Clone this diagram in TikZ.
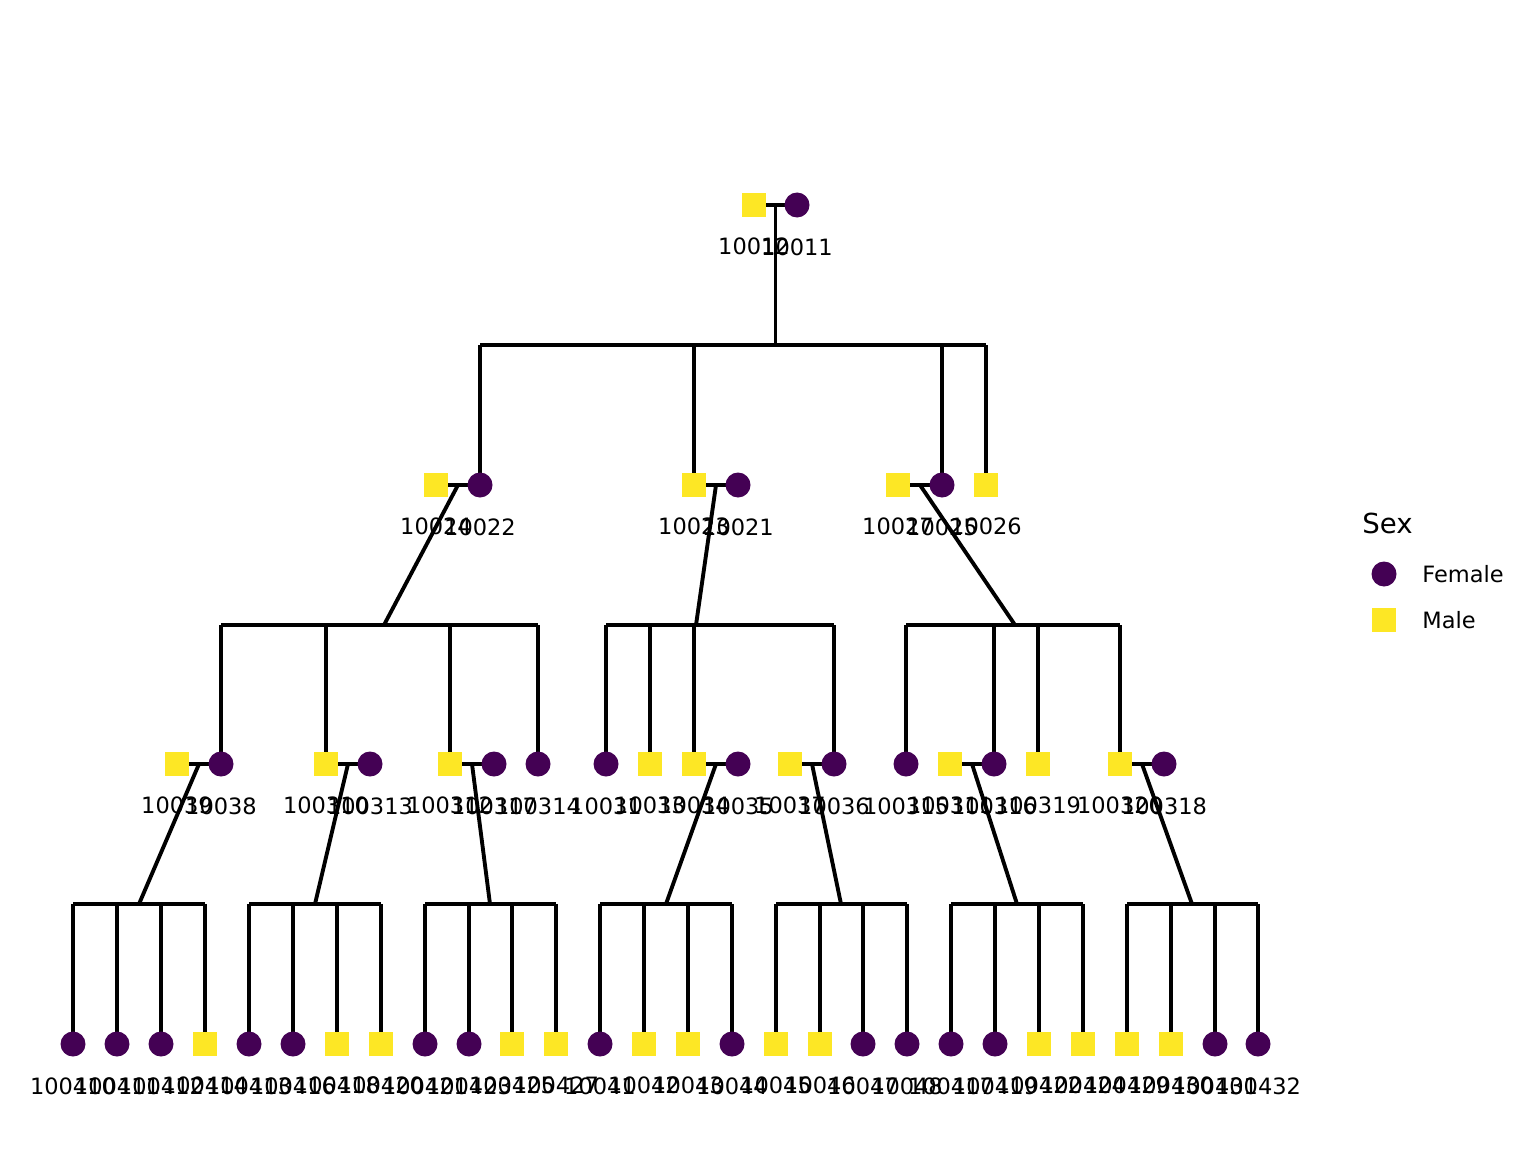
\documentclass[tikz,border=0pt]{standalone}
\usepackage{fontspec}
\setmainfont{DejaVu Sans}
\usepackage{tikz-network}
\definecolor{female}{HTML}{440154}
\definecolor{male}{HTML}{FDE725}
\newcommand{\labelfont}{\fontsize{12.8}{15}\selectfont}
\newcommand{\titlefont}{\fontsize{15.7}{18}\selectfont}

\begin{document}
\begin{tikzpicture}
\SetVertexStyle[LineOpacity=0,TextFont=\labelfont]
\SetEdgeStyle[LineWidth=2.2pt,Color=black]
\useasboundingbox (0,0) rectangle (30.72,-23.04);
% generation 1
\Vertex[label=10012, x=15.08, y=-4.10, shape=rectangle, size=.48, color=male, position=below, distance=3mm]{10012}
\Vertex[label=10011, x=15.94, y=-4.10, size=.5, color=female, position=below, distance=3mm]{10011}
\coordinate (u10012) at (15.51,-4.10);
\coordinate (t10012) at (15.51,-6.90);
\coordinate (d10022) at (9.60,-6.90);
\coordinate (d10023) at (13.88,-6.90);
\coordinate (d10025) at (18.84,-6.90);
\coordinate (d10026) at (19.72,-6.90);
% generation 2
\Vertex[label=10024, x=8.72, y=-9.70, shape=rectangle, size=.48, color=male, position=below, distance=3mm]{10024}
\Vertex[label=10022, x=9.60, y=-9.70, size=.5, color=female, position=below, distance=3mm]{10022}
\Vertex[label=10023, x=13.88, y=-9.70, shape=rectangle, size=.48, color=male, position=below, distance=3mm]{10023}
\Vertex[label=10021, x=14.76, y=-9.70, size=.5, color=female, position=below, distance=3mm]{10021}
\Vertex[label=10027, x=17.96, y=-9.70, shape=rectangle, size=.48, color=male, position=below, distance=3mm]{10027}
\Vertex[label=10025, x=18.84, y=-9.70, size=.5, color=female, position=below, distance=3mm]{10025}
\Vertex[label=10026, x=19.72, y=-9.70, shape=rectangle, size=.48, color=male, position=below, distance=3mm]{10026}
\coordinate (u10024) at (9.16,-9.70);
\coordinate (u10023) at (14.32,-9.70);
\coordinate (u10027) at (18.40,-9.70);
\coordinate (t10024) at (7.68,-12.50);
\coordinate (t10023) at (13.92,-12.50);
\coordinate (t10027) at (20.30,-12.50);
\coordinate (d10038) at (4.42,-12.50);
\coordinate (d100310) at (6.52,-12.50);
\coordinate (d100312) at (9.00,-12.50);
\coordinate (d100314) at (10.76,-12.50);
\coordinate (d10031) at (12.12,-12.50);
\coordinate (d10033) at (13.00,-12.50);
\coordinate (d10034) at (13.88,-12.50);
\coordinate (d10036) at (16.68,-12.50);
\coordinate (d100315) at (18.12,-12.50);
\coordinate (d100316) at (19.88,-12.50);
\coordinate (d100319) at (20.76,-12.50);
\coordinate (d100320) at (22.40,-12.50);
% generation 3
\Vertex[label=10039, x=3.54, y=-15.28, shape=rectangle, size=.48, color=male, position=below, distance=3mm]{10039}
\Vertex[label=10038, x=4.42, y=-15.28, size=.5, color=female, position=below, distance=3mm]{10038}
\Vertex[label=100310, x=6.52, y=-15.28, shape=rectangle, size=.48, color=male, position=below, distance=3mm]{100310}
\Vertex[label=100313, x=7.40, y=-15.28, size=.5, color=female, position=below, distance=3mm]{100313}
\Vertex[label=100312, x=9.00, y=-15.28, shape=rectangle, size=.48, color=male, position=below, distance=3mm]{100312}
\Vertex[label=100317, x=9.88, y=-15.28, size=.5, color=female, position=below, distance=3mm]{100317}
\Vertex[label=100314, x=10.76, y=-15.28, size=.5, color=female, position=below, distance=3mm]{100314}
\Vertex[label=10031, x=12.12, y=-15.28, size=.5, color=female, position=below, distance=3mm]{10031}
\Vertex[label=10033, x=13.00, y=-15.28, shape=rectangle, size=.48, color=male, position=below, distance=3mm]{10033}
\Vertex[label=10034, x=13.88, y=-15.28, shape=rectangle, size=.48, color=male, position=below, distance=3mm]{10034}
\Vertex[label=10035, x=14.76, y=-15.28, size=.5, color=female, position=below, distance=3mm]{10035}
\Vertex[label=10037, x=15.80, y=-15.28, shape=rectangle, size=.48, color=male, position=below, distance=3mm]{10037}
\Vertex[label=10036, x=16.68, y=-15.28, size=.5, color=female, position=below, distance=3mm]{10036}
\Vertex[label=100315, x=18.12, y=-15.28, size=.5, color=female, position=below, distance=3mm]{100315}
\Vertex[label=100311, x=19.00, y=-15.28, shape=rectangle, size=.48, color=male, position=below, distance=3mm]{100311}
\Vertex[label=100316, x=19.88, y=-15.28, size=.5, color=female, position=below, distance=3mm]{100316}
\Vertex[label=100319, x=20.76, y=-15.28, shape=rectangle, size=.48, color=male, position=below, distance=3mm]{100319}
\Vertex[label=100320, x=22.40, y=-15.28, shape=rectangle, size=.48, color=male, position=below, distance=3mm]{100320}
\Vertex[label=100318, x=23.28, y=-15.28, size=.5, color=female, position=below, distance=3mm]{100318}
\coordinate (u10039) at (3.98,-15.28);
\coordinate (u100310) at (6.96,-15.28);
\coordinate (u100312) at (9.44,-15.28);
\coordinate (u10034) at (14.32,-15.28);
\coordinate (u10037) at (16.24,-15.28);
\coordinate (u100311) at (19.44,-15.28);
\coordinate (u100320) at (22.84,-15.28);
\coordinate (t10039) at (2.78,-18.08);
\coordinate (t100310) at (6.30,-18.08);
\coordinate (t100312) at (9.80,-18.08);
\coordinate (t10034) at (13.32,-18.08);
\coordinate (t10037) at (16.82,-18.08);
\coordinate (t100311) at (20.34,-18.08);
\coordinate (t100320) at (23.84,-18.08);
% generation 4
\Vertex[label=100410, x=1.46, y=-20.88, size=.5, color=female, position=below, distance=3mm]{100410}
\Vertex[label=100411, x=2.34, y=-20.88, size=.5, color=female, position=below, distance=3mm]{100411}
\Vertex[label=100412, x=3.22, y=-20.88, size=.5, color=female, position=below, distance=3mm]{100412}
\Vertex[label=100414, x=4.10, y=-20.88, shape=rectangle, size=.48, color=male, position=below, distance=3mm]{100414}
\Vertex[label=100413, x=4.98, y=-20.88, size=.5, color=female, position=below, distance=3mm]{100413}
\Vertex[label=100416, x=5.86, y=-20.88, size=.5, color=female, position=below, distance=3mm]{100416}
\Vertex[label=100418, x=6.74, y=-20.88, shape=rectangle, size=.48, color=male, position=below, distance=3mm]{100418}
\Vertex[label=100420, x=7.62, y=-20.88, shape=rectangle, size=.48, color=male, position=below, distance=3mm]{100420}
\Vertex[label=100421, x=8.50, y=-20.88, size=.5, color=female, position=below, distance=3mm]{100421}
\Vertex[label=100423, x=9.38, y=-20.88, size=.5, color=female, position=below, distance=3mm]{100423}
\Vertex[label=100425, x=10.24, y=-20.88, shape=rectangle, size=.48, color=male, position=below, distance=3mm]{100425}
\Vertex[label=100427, x=11.12, y=-20.88, shape=rectangle, size=.48, color=male, position=below, distance=3mm]{100427}
\Vertex[label=10041, x=12.00, y=-20.88, size=.5, color=female, position=below, distance=3mm]{10041}
\Vertex[label=10042, x=12.88, y=-20.88, shape=rectangle, size=.48, color=male, position=below, distance=3mm]{10042}
\Vertex[label=10043, x=13.76, y=-20.88, shape=rectangle, size=.48, color=male, position=below, distance=3mm]{10043}
\Vertex[label=10044, x=14.64, y=-20.88, size=.5, color=female, position=below, distance=3mm]{10044}
\Vertex[label=10045, x=15.52, y=-20.88, shape=rectangle, size=.48, color=male, position=below, distance=3mm]{10045}
\Vertex[label=10046, x=16.40, y=-20.88, shape=rectangle, size=.48, color=male, position=below, distance=3mm]{10046}
\Vertex[label=10047, x=17.26, y=-20.88, size=.5, color=female, position=below, distance=3mm]{10047}
\Vertex[label=10048, x=18.14, y=-20.88, size=.5, color=female, position=below, distance=3mm]{10048}
\Vertex[label=100417, x=19.02, y=-20.88, size=.5, color=female, position=below, distance=3mm]{100417}
\Vertex[label=100419, x=19.90, y=-20.88, size=.5, color=female, position=below, distance=3mm]{100419}
\Vertex[label=100422, x=20.78, y=-20.88, shape=rectangle, size=.48, color=male, position=below, distance=3mm]{100422}
\Vertex[label=100424, x=21.66, y=-20.88, shape=rectangle, size=.48, color=male, position=below, distance=3mm]{100424}
\Vertex[label=100429, x=22.54, y=-20.88, shape=rectangle, size=.48, color=male, position=below, distance=3mm]{100429}
\Vertex[label=100430, x=23.42, y=-20.88, shape=rectangle, size=.48, color=male, position=below, distance=3mm]{100430}
\Vertex[label=100431, x=24.30, y=-20.88, size=.5, color=female, position=below, distance=3mm]{100431}
\Vertex[label=100432, x=25.16, y=-20.88, size=.5, color=female, position=below, distance=3mm]{100432}
\coordinate (d100410) at (1.46,-18.08);
\coordinate (d100411) at (2.34,-18.08);
\coordinate (d100412) at (3.22,-18.08);
\coordinate (d100414) at (4.10,-18.08);
\coordinate (d100413) at (4.98,-18.08);
\coordinate (d100416) at (5.86,-18.08);
\coordinate (d100418) at (6.74,-18.08);
\coordinate (d100420) at (7.62,-18.08);
\coordinate (d100421) at (8.50,-18.08);
\coordinate (d100423) at (9.38,-18.08);
\coordinate (d100425) at (10.24,-18.08);
\coordinate (d100427) at (11.12,-18.08);
\coordinate (d10041) at (12.00,-18.08);
\coordinate (d10042) at (12.88,-18.08);
\coordinate (d10043) at (13.76,-18.08);
\coordinate (d10044) at (14.64,-18.08);
\coordinate (d10045) at (15.52,-18.08);
\coordinate (d10046) at (16.40,-18.08);
\coordinate (d10047) at (17.26,-18.08);
\coordinate (d10048) at (18.14,-18.08);
\coordinate (d100417) at (19.02,-18.08);
\coordinate (d100419) at (19.90,-18.08);
\coordinate (d100422) at (20.78,-18.08);
\coordinate (d100424) at (21.66,-18.08);
\coordinate (d100429) at (22.54,-18.08);
\coordinate (d100430) at (23.42,-18.08);
\coordinate (d100431) at (24.30,-18.08);
\coordinate (d100432) at (25.16,-18.08);
% legend
\node[anchor=west, inner sep=0pt, font=\titlefont] (sex) at (27.24,-10.46) {Sex};
\Vertex[x=27.68, y=-11.48, size=.5, color=female]{kf}
\Vertex[x=27.68, y=-12.40, shape=rectangle, size=.48, color=male]{km}
\node[anchor=west, inner sep=0pt, font=\labelfont] (female) at (28.44,-11.48) {Female};
\node[anchor=west, inner sep=0pt, font=\labelfont] (male) at (28.44,-12.40) {Male};
% couples
\Edge(10012)(10011)
\Edge(10024)(10022)
\Edge(10023)(10021)
\Edge(10027)(10025)
\Edge(10039)(10038)
\Edge(100310)(100313)
\Edge(100312)(100317)
\Edge(10034)(10035)
\Edge(10037)(10036)
\Edge(100311)(100316)
\Edge(100320)(100318)
% descent
\Edge(u10012)(t10012)
\Edge(u10024)(t10024)
\Edge(u10023)(t10023)
\Edge(u10027)(t10027)
\Edge(u10039)(t10039)
\Edge(u100310)(t100310)
\Edge(u100312)(t100312)
\Edge(u10034)(t10034)
\Edge(u10037)(t10037)
\Edge(u100311)(t100311)
\Edge(u100320)(t100320)
% sibships
\Edge(d10022)(d10026)
\Edge(d10022)(10022)
\Edge(d10023)(10023)
\Edge(d10025)(10025)
\Edge(d10026)(10026)
\Edge(d10038)(d100314)
\Edge(d10038)(10038)
\Edge(d100310)(100310)
\Edge(d100312)(100312)
\Edge(d100314)(100314)
\Edge(d10031)(d10036)
\Edge(d10031)(10031)
\Edge(d10033)(10033)
\Edge(d10034)(10034)
\Edge(d10036)(10036)
\Edge(d100315)(d100320)
\Edge(d100315)(100315)
\Edge(d100316)(100316)
\Edge(d100319)(100319)
\Edge(d100320)(100320)
\Edge(d100410)(d100414)
\Edge(d100410)(100410)
\Edge(d100411)(100411)
\Edge(d100412)(100412)
\Edge(d100414)(100414)
\Edge(d100413)(d100420)
\Edge(d100413)(100413)
\Edge(d100416)(100416)
\Edge(d100418)(100418)
\Edge(d100420)(100420)
\Edge(d100421)(d100427)
\Edge(d100421)(100421)
\Edge(d100423)(100423)
\Edge(d100425)(100425)
\Edge(d100427)(100427)
\Edge(d10041)(d10044)
\Edge(d10041)(10041)
\Edge(d10042)(10042)
\Edge(d10043)(10043)
\Edge(d10044)(10044)
\Edge(d10045)(d10048)
\Edge(d10045)(10045)
\Edge(d10046)(10046)
\Edge(d10047)(10047)
\Edge(d10048)(10048)
\Edge(d100417)(d100424)
\Edge(d100417)(100417)
\Edge(d100419)(100419)
\Edge(d100422)(100422)
\Edge(d100424)(100424)
\Edge(d100429)(d100432)
\Edge(d100429)(100429)
\Edge(d100430)(100430)
\Edge(d100431)(100431)
\Edge(d100432)(100432)
\end{tikzpicture}
\end{document}
